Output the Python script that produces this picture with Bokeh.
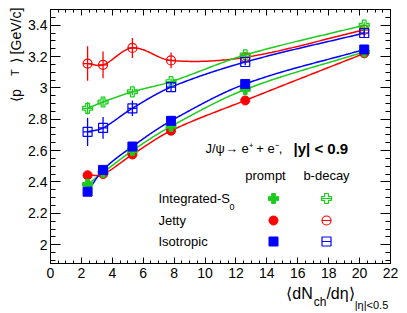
import numpy as np
from bokeh.plotting import figure
from bokeh.models import (LinearAxis, FixedTicker, CustomJSTickFormatter, Label,
                          ColumnDataSource, Range1d)
from bokeh.embed import file_html
from bokeh.resources import INLINE

# ---------------- data ----------------
mult = [2.4, 3.4, 5.3, 7.8, 12.6, 20.3]

prompt_integrated = [2.385, 2.46, 2.60, 2.755, 2.99, 3.23]
prompt_jetty      = [2.443, 2.45, 2.575, 2.727, 2.92, 3.22]
prompt_isotropic  = [2.338, 2.477, 2.626, 2.79, 3.025, 3.245]
prompt_err        = [0.01, 0.01, 0.01, 0.01, 0.01, 0.01]

bdecay_integrated = [2.87, 2.91, 2.975, 3.04, 3.21, 3.40]
bdecay_jetty      = [3.155, 3.147, 3.255, 3.175, 3.195, 3.37]
bdecay_isotropic  = [2.72, 2.745, 2.87, 3.005, 3.165, 3.35]
bdecay_integrated_err = [0.04, 0.03, 0.02, 0.02, 0.02, 0.02]
bdecay_jetty_err      = [0.11, 0.085, 0.064, 0.05, 0.03, 0.03]
bdecay_isotropic_err  = [0.09, 0.07, 0.05, 0.03, 0.02, 0.03]

x_ticks = [0, 2, 4, 6, 8, 10, 12, 14, 16, 18, 20, 22]
y_ticks = [2.0, 2.2, 2.4, 2.6, 2.8, 3.0, 3.2, 3.4]

GREEN = "#1ccc1c"
RED = "#ff0000"
BLUE = "#0000ff"
FONT = "Liberation Sans"

X0, X1 = 0, 22
Y0, Y1 = 1.88, 3.50
W, H = 407, 313


def smooth_curve(x, y, n=60):
    """Cubic Hermite curve through the points (cardinal spline tangents)."""
    x = np.asarray(x, float)
    y = np.asarray(y, float)
    k = len(x)
    m = np.zeros(k)
    m[0] = (y[1] - y[0]) / (x[1] - x[0])
    m[-1] = (y[-1] - y[-2]) / (x[-1] - x[-2])
    for i in range(1, k - 1):
        m[i] = (y[i + 1] - y[i - 1]) / (x[i + 1] - x[i - 1])
    xs, ys = [], []
    for i in range(k - 1):
        h = x[i + 1] - x[i]
        t = np.linspace(0, 1, n, endpoint=(i == k - 2))
        h00 = 2 * t ** 3 - 3 * t ** 2 + 1
        h10 = t ** 3 - 2 * t ** 2 + t
        h01 = -2 * t ** 3 + 3 * t ** 2
        h11 = t ** 3 - t ** 2
        xs.extend(x[i] + t * h)
        ys.extend(h00 * y[i] + h10 * h * m[i] + h01 * y[i + 1] + h11 * h * m[i + 1])
    return xs, ys


p = figure(width=W, height=H, output_backend="svg", toolbar_location=None,
           x_range=Range1d(X0, X1), y_range=Range1d(Y0, Y1),
           min_border_left=50, min_border_right=17, min_border_top=9, min_border_bottom=50,
           x_axis_location=None, y_axis_location=None)
p.xgrid.visible = False
p.ygrid.visible = False
p.outline_line_color = "black"
p.outline_line_width = 1
p.background_fill_color = "white"
p.border_fill_color = "white"

x_minor = [v * 0.5 for v in range(0, 45)]
y_minor = [round(1.9 + v * 0.05, 3) for v in range(0, 33)]
fmt = CustomJSTickFormatter(code="return tick.toFixed(1).replace(/\\.0$/, '');")
blank = CustomJSTickFormatter(code="return '';")


def make_axis(kind, loc, labels):
    ax = LinearAxis()
    if kind == "x":
        ax.ticker = FixedTicker(ticks=x_ticks, minor_ticks=x_minor)
        ax.major_tick_in, ax.minor_tick_in = 6, 3
    else:
        ax.ticker = FixedTicker(ticks=y_ticks, minor_ticks=y_minor)
        ax.major_tick_in, ax.minor_tick_in = 10, 5
        ax.formatter = fmt
    ax.major_tick_out = 0
    ax.minor_tick_out = 0
    ax.axis_line_color = "black"
    ax.major_tick_line_color = "black"
    ax.minor_tick_line_color = "black"
    if labels:
        ax.major_label_text_font = FONT
        ax.major_label_text_font_size = "14px"
        ax.major_label_text_color = "black"
        ax.major_label_standoff = 4 if kind == "x" else 3
    else:
        ax.formatter = blank
        ax.major_label_text_font_size = "1px"
        ax.major_label_standoff = 0
    p.add_layout(ax, loc)


make_axis("x", "below", True)
make_axis("x", "above", False)
make_axis("y", "left", True)
make_axis("y", "right", False)


# ---------------- axis titles (pieces drawn as tick labels of bare axes) ----------------
def dxp(px):
    return X0 + (px - 50) / 340 * (X1 - X0)


def dyp(py):
    return Y1 - (py - 9) / 254 * (Y1 - Y0)


def title_axis(loc, positions, texts, size, standoff, orientation="horizontal"):
    ax = LinearAxis(ticker=FixedTicker(ticks=positions, minor_ticks=[]),
                    formatter=CustomJSTickFormatter(args=dict(labels=texts),
                                                    code="return labels[index];"))
    ax.axis_line_color = None
    ax.major_tick_line_color = None
    ax.minor_tick_line_color = None
    ax.major_tick_in = ax.major_tick_out = 0
    ax.minor_tick_in = ax.minor_tick_out = 0
    ax.major_label_text_font = FONT
    ax.major_label_text_font_size = f"{size}px"
    ax.major_label_text_color = "black"
    ax.major_label_standoff = standoff
    ax.major_label_orientation = orientation
    p.add_layout(ax, loc)


# x title: <dN_ch/deta>_{|eta|<0.5}
title_axis("below", [dxp(299), dxp(340)], ["\u27e8dN", "/d\u03b7\u27e9"], 16, 4)
title_axis("below", [dxp(319.5)], ["ch"], 12, -10)
title_axis("below", [dxp(371)], ["|\u03b7|<0.5"], 11, -13)

# y title: <p_T> [GeV/c]  (inner subscript axis first, then the main text)
title_axis("left", [dyp(72)], ["T"], 11, 5, "parallel")
title_axis("left", [dyp(35), dyp(95)], ["\u27e9 [GeV/c]", "\u27e8p"], 14, -18, "parallel")

# ---------------- curves ----------------
series = [
    (prompt_jetty, prompt_err, RED, "circle", True),
    (prompt_integrated, prompt_err, GREEN, "plus", True),
    (prompt_isotropic, prompt_err, BLUE, "square", True),
    (bdecay_jetty, bdecay_jetty_err, RED, "circle", False),
    (bdecay_integrated, bdecay_integrated_err, GREEN, "plus", False),
    (bdecay_isotropic, bdecay_isotropic_err, BLUE, "square", False),
]

for ys, errs, col, mk, filled in series:
    sx, sy = smooth_curve(mult, ys)
    p.line(sx, sy, line_color=col, line_width=1.5)

for ys, errs, col, mk, filled in series:
    src = ColumnDataSource(dict(x=mult, y=ys,
                                lo=[a - e for a, e in zip(ys, errs)],
                                hi=[a + e for a, e in zip(ys, errs)]))
    p.segment(x0="x", y0="lo", x1="x", y1="hi", source=src, line_color=col, line_width=1.3)
    sz = 10 if mk == "plus" else 9
    if filled:
        p.scatter("x", "y", source=src, marker=mk, size=sz, fill_color=col,
                  line_color=col, line_width=1)
    else:
        p.scatter("x", "y", source=src, marker=mk, size=sz, fill_alpha=0,
                  line_color=col, line_width=1.2)
        p.scatter("x", "y", source=src, marker="dash", size=sz, line_color=col, line_width=1.2)


# ---------------- texts inside the frame ----------------
def lab(text, px, py, size=13, align="left", baseline="middle", bold=False):
    p.add_layout(Label(x=dxp(px), y=dyp(py), text=text, text_font=FONT,
                       text_font_size=f"{size}px", text_align=align,
                       text_baseline=baseline, text_color="black",
                       text_font_style="bold" if bold else "normal"))


# annotation
lab("J/\u03c8\u2192 e\u207a + e\u207b,", 205, 148, size=13)
lab("|y|  <  0.9", 293, 148, size=15, bold=True)

# legend
lab("prompt", 265, 175, size=13, align="center")
lab("b-decay", 326, 175, size=13, align="center")
rows_y = [198, 220, 241]
lab("Integrated-S", 158, 198, size=13)
lab("0", 229, 206, size=9)
lab("Jetty", 158, 220, size=13)
lab("Isotropic", 158, 241, size=13)

leg_prompt_x = dxp(273)
leg_b_x = dxp(326)
for (mk, col), ry in zip([("plus", GREEN), ("circle", RED), ("square", BLUE)], rows_y):
    sz = 10 if mk == "plus" else 9
    p.scatter([leg_prompt_x], [dyp(ry)], marker=mk, size=sz, fill_color=col, line_color=col)
    p.scatter([leg_b_x], [dyp(ry)], marker=mk, size=sz, fill_alpha=0, line_color=col, line_width=1.2)
    p.scatter([leg_b_x], [dyp(ry)], marker="dash", size=sz, line_color=col, line_width=1.2)

open("out.html", "w").write(file_html(p, INLINE))
